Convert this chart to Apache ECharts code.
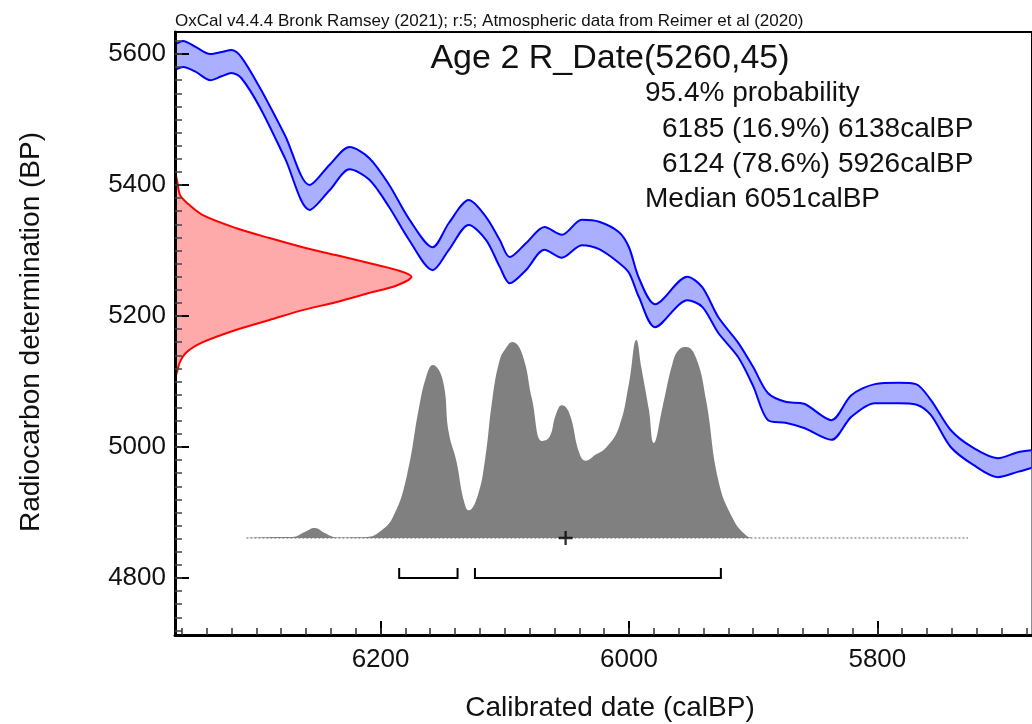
<!DOCTYPE html>
<html><head><meta charset="utf-8">
<script src="https://cdn.jsdelivr.net/npm/echarts@6/dist/echarts.min.js"></script>
<style>html,body{margin:0;padding:0;background:#fff}#c{width:1032px;height:724px}</style>
</head><body><div id="c"></div>
<script>
// ---- Calibration curve (IntCal20 band) ----
const calBP = [6365, 6359, 6349, 6337, 6328, 6320, 6312, 6297, 6277, 6257, 6241, 6225, 6209, 6193, 6177, 6158, 6145, 6129, 6115, 6104, 6096, 6083, 6068, 6054, 6038, 6024, 6008, 6000, 5992, 5979, 5953, 5941, 5928, 5912, 5900, 5888, 5874, 5859, 5837, 5821, 5802, 5783, 5769, 5757, 5741, 5723, 5703, 5687, 5676];
const calUpper = [5615, 5620, 5611, 5600, 5603, 5606, 5595, 5548, 5476, 5400, 5431, 5458, 5441, 5400, 5348, 5305, 5342, 5377, 5351, 5316, 5290, 5311, 5336, 5324, 5347, 5344, 5328, 5305, 5258, 5218, 5260, 5244, 5198, 5159, 5122, 5082, 5069, 5066, 5041, 5079, 5096, 5098, 5096, 5072, 5026, 4999, 4983, 4992, 4995];
const calLower = [5576, 5580, 5573, 5560, 5566, 5571, 5563, 5518, 5441, 5362, 5392, 5424, 5408, 5366, 5316, 5270, 5301, 5339, 5316, 5275, 5250, 5270, 5301, 5289, 5308, 5302, 5281, 5266, 5229, 5183, 5224, 5214, 5174, 5137, 5093, 5041, 5037, 5029, 5011, 5046, 5067, 5067, 5065, 5049, 5000, 4973, 4954, 4962, 4968];

// ---- Radiocarbon measurement distribution (BP vs relative density) ----
const c14BP   = [5420, 5408, 5385, 5373, 5354, 5334, 5319, 5305, 5293, 5281, 5270, 5260, 5247, 5235, 5221, 5209, 5194, 5179, 5160, 5145, 5130, 5114, 5105];
const c14Prob = [0, 0.008, 0.021, 0.05, 0.118, 0.26, 0.40, 0.54, 0.68, 0.82, 0.94, 1.0, 0.94, 0.82, 0.68, 0.54, 0.40, 0.26, 0.118, 0.05, 0.021, 0.008, 0];

// ---- Calibrated (posterior) distribution ----
const postCal  = [6308, 6281, 6271, 6261, 6253, 6245, 6235, 6211, 6201, 6190, 6179, 6169, 6163, 6158, 6150, 6145, 6139, 6133, 6129, 6122, 6116, 6110, 6104, 6099, 6094, 6086, 6078, 6070, 6064, 6059, 6054, 6048, 6040, 6035, 6027, 6018, 6008, 6000, 5994, 5990, 5984, 5980, 5973, 5965, 5960, 5954, 5946, 5938, 5928, 5917, 5906, 5898, 5727];
const postProb = [0, 0.005, 0.005, 0.03, 0.05, 0.025, 0.003, 0.005, 0.03, 0.106, 0.31, 0.66, 0.82, 0.874, 0.80, 0.53, 0.39, 0.19, 0.14, 0.21, 0.39, 0.70, 0.90, 0.96, 0.99, 0.93, 0.70, 0.49, 0.51, 0.62, 0.67, 0.63, 0.43, 0.39, 0.42, 0.46, 0.56, 0.78, 1.0, 0.86, 0.65, 0.48, 0.66, 0.88, 0.95, 0.965, 0.91, 0.70, 0.29, 0.106, 0.015, 0, 0];

// ---- 95.4% ranges and marker ----
const rangeFrom = [6185, 6124];
const rangeTo   = [6138, 5926];
const crossCal  = 6051;

// ---- Tick labels ----
const xTickLabels = [6200, 6000, 5800];
const yTickLabels = [4800, 5000, 5200, 5400, 5600];

// ---- Texts ----
const headerText = 'OxCal v4.4.4 Bronk Ramsey (2021); r:5; Atmospheric data from Reimer et al (2020)';
const titleText = 'Age 2 R_Date(5260,45)';
const infoLines = ['95.4% probability', '6185 (16.9%) 6138calBP', '6124 (78.6%) 5926calBP', 'Median 6051calBP'];
const xTitle = 'Calibrated date (calBP)';
const yTitle = 'Radiocarbon determination (BP)';

// ---- layout ----
const FONT = '"Liberation Sans", Arial, sans-serif';
const xMin = 5675.5, xMax = 6365.5;
const yMin = 4713, yMax = 5633.6;
const xMinor = []; for (let v = 5680; v <= 6360; v += 20) xMinor.push(v);
const yMinor = []; for (let v = 4720; v <= 5620; v += 20) yMinor.push(v);
const plain = v => String(Math.round(v));

const chart = echarts.init(document.getElementById('c'), null, {renderer: 'canvas'});

const bandUpper = calBP.map((c, i) => [c, calUpper[i]]);
const bandLower = calBP.map((c, i) => [c, calLower[i]]);
const postData = postCal.map((c, i) => [c, postProb[i]]);
const c14Data = c14BP.map((b, i) => [c14Prob[i], b]);

const option = {
  animation: false,
  backgroundColor: '#fff',
  grid: {left: 175, top: 32, right: -2, bottom: 89, show: true, borderColor: '#000', borderWidth: 2, backgroundColor: 'transparent'},
  xAxis: [
    {type: 'value', min: xMin, max: xMax, inverse: true, position: 'bottom', z: 10,
     axisLine: {show: true, onZero: false, lineStyle: {color: '#000', width: 3}},
     axisTick: {show: true, inside: true, length: 14, customValues: xTickLabels, lineStyle: {color: '#000', width: 2}},
     axisLabel: {show: true, customValues: xTickLabels, formatter: plain, fontSize: 26, fontFamily: FONT, color: '#111', margin: 12},
     splitLine: {show: false}},
    {type: 'value', min: xMin, max: xMax, inverse: true, position: 'bottom', z: 10,
     axisLine: {show: false, onZero: false},
     axisTick: {show: true, inside: true, length: 7, customValues: xMinor, lineStyle: {color: '#333', width: 1.5}},
     axisLabel: {show: false}, splitLine: {show: false}},
    {type: 'value', min: 0, max: 859 / 237, show: false, axisLine: {onZero: false}}
  ],
  yAxis: [
    {type: 'value', min: yMin, max: yMax, position: 'left', z: 10,
     axisLine: {show: true, onZero: false, lineStyle: {color: '#000', width: 3}},
     axisTick: {show: true, inside: true, length: 14, customValues: yTickLabels, lineStyle: {color: '#000', width: 2}},
     axisLabel: {show: true, customValues: yTickLabels, formatter: plain, fontSize: 26, fontFamily: FONT, color: '#111', margin: 9},
     splitLine: {show: false}},
    {type: 'value', min: yMin, max: yMax, position: 'left', z: 10,
     axisLine: {show: false, onZero: false},
     axisTick: {show: true, inside: true, length: 7, customValues: yMinor, lineStyle: {color: '#444', width: 1.5}},
     axisLabel: {show: false}, splitLine: {show: false}},
    {type: 'value', min: -0.49, max: 2.556, show: false, axisLine: {onZero: false}}
  ],
  series: [
    {type: 'line', name: 'upper', xAxisIndex: 0, yAxisIndex: 0, data: bandUpper, smooth: 0.3, symbol: 'none', z: 1,
     lineStyle: {color: '#0000ff', width: 2}, areaStyle: {color: '#aab0ff', opacity: 1, origin: 'start'}},
    {type: 'line', name: 'lower', xAxisIndex: 0, yAxisIndex: 0, data: bandLower, smooth: 0.3, symbol: 'none', z: 2,
     lineStyle: {color: '#0000ff', width: 2}, areaStyle: {color: '#ffffff', opacity: 1, origin: 'start'}},
    {type: 'line', xAxisIndex: 0, yAxisIndex: 2, data: [[postCal[0], 0], [postCal[postCal.length - 1], 0]], symbol: 'none', z: 3,
     lineStyle: {color: '#b0b0b0', width: 2, type: 'dotted'}},
    {type: 'line', xAxisIndex: 0, yAxisIndex: 2, data: postData, smooth: 0.45, symbol: 'none', z: 4,
     lineStyle: {width: 0}, areaStyle: {color: '#808080', opacity: 1}},
    {type: 'custom', xAxisIndex: 2, yAxisIndex: 0, data: c14Data, z: 4,
     renderItem: function (params, api) {
       if (params.dataIndex !== 0) return null;
       const pts = c14BP.map((b, i) => api.coord([c14Prob[i], b]));
       return {type: 'group', children: [
         {type: 'polygon', shape: {points: pts, smooth: 0.3}, style: {fill: '#ffaaaa', stroke: null}},
         {type: 'polyline', shape: {points: pts, smooth: 0.3}, style: {stroke: '#ff0000', lineWidth: 2, fill: null}}
       ]};
     }},
    {type: 'custom', xAxisIndex: 0, yAxisIndex: 2, data: rangeFrom.map((f, i) => [f, rangeTo[i]]), z: 5,
     renderItem: function (params, api) {
       const a = api.coord([api.value(0), 0]);
       const b = api.coord([api.value(1), 0]);
       const y = a[1] + 40;
       return {type: 'polyline', shape: {points: [[a[0], y - 10], [a[0], y], [b[0], y], [b[0], y - 10]]},
               style: {stroke: '#000', lineWidth: 2, fill: null}};
     }},
    {type: 'scatter', xAxisIndex: 0, yAxisIndex: 2, data: [[crossCal, 0]], z: 6,
     symbol: 'path://M5,0H7V5H12V7H7V12H5V7H0V5H5Z', symbolSize: 14, itemStyle: {color: '#000'}}
  ],
  graphic: [
    {type: 'text', x: 175, y: 21, z: 20, style: {text: headerText, font: '17px ' + FONT, fill: '#111', align: 'left', verticalAlign: 'middle'}},
    {type: 'text', x: 610, y: 59, z: 20, style: {text: titleText, font: '34px ' + FONT, fill: '#111', align: 'center', verticalAlign: 'middle'}},
    {type: 'text', x: 645, y: 93, z: 20, style: {text: infoLines[0], font: '28px ' + FONT, fill: '#111', align: 'left', verticalAlign: 'middle'}},
    {type: 'text', x: 662, y: 129, z: 20, style: {text: infoLines[1], font: '28px ' + FONT, fill: '#111', align: 'left', verticalAlign: 'middle'}},
    {type: 'text', x: 662, y: 164, z: 20, style: {text: infoLines[2], font: '28px ' + FONT, fill: '#111', align: 'left', verticalAlign: 'middle'}},
    {type: 'text', x: 645, y: 199, z: 20, style: {text: infoLines[3], font: '28px ' + FONT, fill: '#111', align: 'left', verticalAlign: 'middle'}},
    {type: 'text', x: 610, y: 708, z: 20, style: {text: xTitle, font: '28px ' + FONT, fill: '#111', align: 'center', verticalAlign: 'middle'}},
    {type: 'text', x: 31, y: 332, rotation: Math.PI / 2, z: 20, style: {text: yTitle, font: '28px ' + FONT, fill: '#111', align: 'center', verticalAlign: 'middle'}}
  ]
};
chart.setOption(option);
</script>
</body></html>
